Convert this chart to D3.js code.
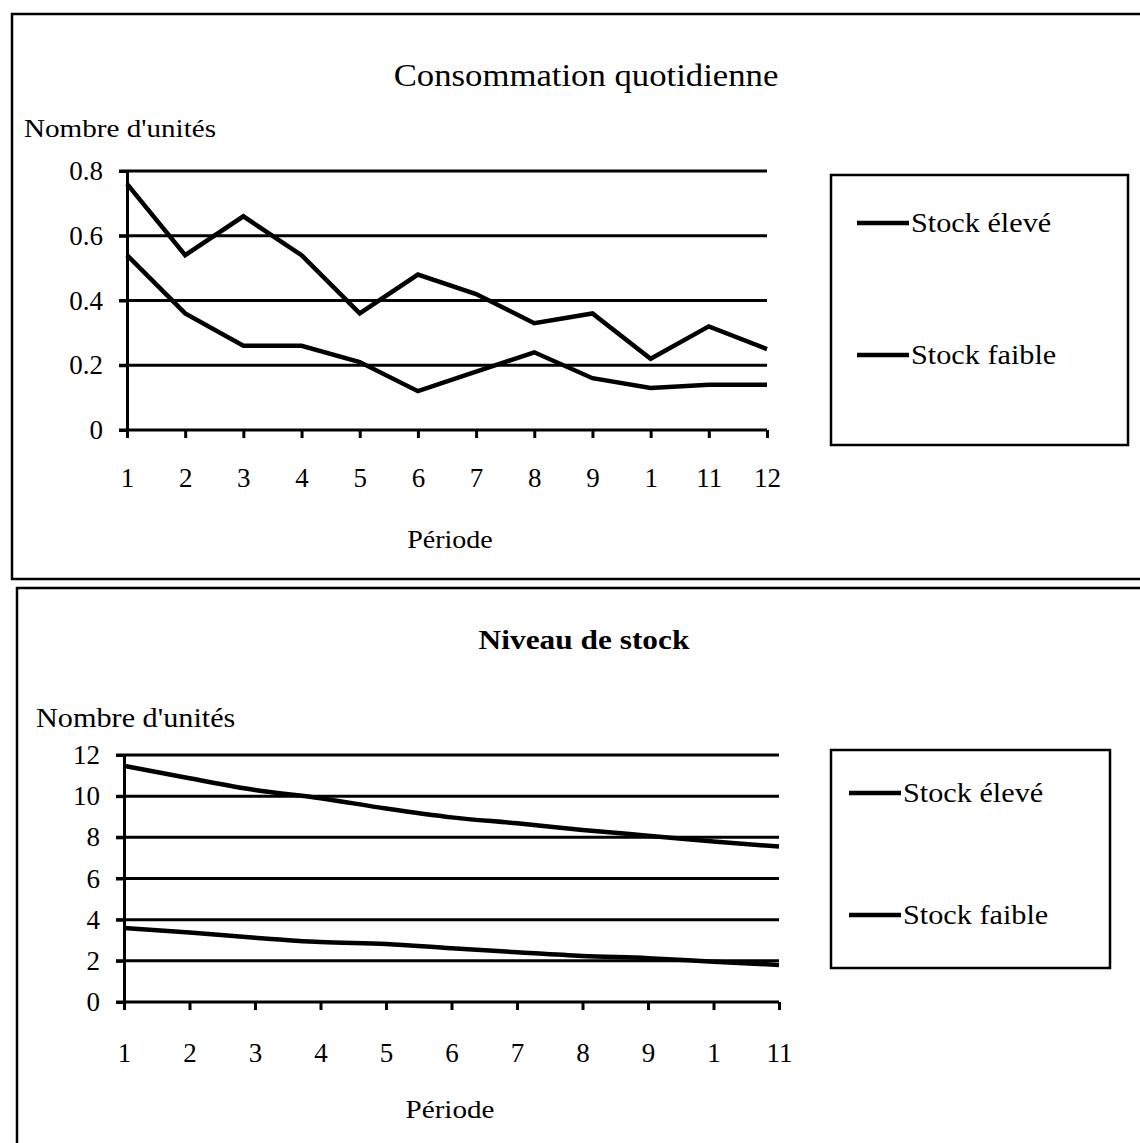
<!DOCTYPE html>
<html>
<head>
<meta charset="utf-8">
<script src="https://cdn.jsdelivr.net/npm/d3@7"></script>
<style>
  html, body { margin: 0; padding: 0; background: #fff; }
  svg { display: block; }
  text { font-family: "Liberation Serif", "Times New Roman", serif; fill: #000; }
</style>
</head>
<body>
<script>
// ---------- data ----------
const periodsTop = [1,2,3,4,5,6,7,8,9,10,11,12];
const periodLabelsTop = ["1","2","3","4","5","6","7","8","9","1","11","12"];
const consoHigh = [0.76,0.54,0.66,0.54,0.36,0.48,0.42,0.33,0.36,0.22,0.32,0.25];
const consoLow  = [0.54,0.36,0.26,0.26,0.21,0.12,0.18,0.24,0.16,0.13,0.14,0.14];
const yTicksTop = [0,0.2,0.4,0.6,0.8];
const yLabelsTop = ["0","0.2","0.4","0.6","0.8"];

const periodsBottom = [1,2,3,4,5,6,7,8,9,10,11];
const periodLabelsBottom = ["1","2","3","4","5","6","7","8","9","1","11"];
const stockHigh = [11.47,10.87,10.3,9.9,9.4,8.97,8.68,8.36,8.08,7.8,7.55];
const stockLow  = [3.6,3.38,3.12,2.91,2.82,2.61,2.42,2.24,2.13,1.96,1.8];
const yTicksBottom = [0,2,4,6,8,10,12];
const yLabelsBottom = ["0","2","4","6","8","10","12"];

const seriesNames = ["Stock élevé","Stock faible"];

// ---------- drawing ----------
const W = 1140, H = 1143;
const SX = 1.12; // horizontal stretch of the scanned lettering
const svg = d3.select("body").append("svg").attr("width", W).attr("height", H);

function label(g, x, y, txt, size, anchor, bold) {
  return g.append("text")
    .attr("transform", `translate(${x},${y}) scale(${SX},1)`)
    .attr("text-anchor", anchor || "start")
    .attr("font-size", size)
    .attr("font-weight", bold ? "bold" : "normal")
    .text(txt);
}

// frames
svg.append("rect").attr("x",12).attr("y",14).attr("width",1140).attr("height",565)
  .attr("fill","none").attr("stroke","#000").attr("stroke-width",2.5);
svg.append("rect").attr("x",17).attr("y",588).attr("width",1140).attr("height",600)
  .attr("fill","none").attr("stroke","#000").attr("stroke-width",2.5);

function drawChart(cfg) {
  const g = svg.append("g");
  const x = d3.scalePoint().domain(cfg.periods).range([cfg.x0, cfg.x1]);
  const y = d3.scaleLinear().domain(cfg.yDomain).range([cfg.y0, cfg.y1]);

  label(g, cfg.titleX, cfg.titleY, cfg.title, cfg.titleSize, "middle", cfg.titleBold);
  label(g, cfg.yTitleX, cfg.yTitleY, "Nombre d'unités", cfg.yTitleSize, "start");
  label(g, cfg.xTitleX, cfg.xTitleY, "Période", cfg.xTitleSize, "middle");

  // gridlines
  g.append("g").selectAll("line").data(cfg.yTicks.filter(d => d !== 0)).join("line")
    .attr("x1", cfg.x0 - 8).attr("x2", cfg.x1)
    .attr("y1", d => y(d)).attr("y2", d => y(d))
    .attr("stroke","#000").attr("stroke-width",3);

  // y axis
  const yAxis = d3.axisLeft(y).tickValues(cfg.yTicks)
    .tickFormat((d,i) => cfg.yLabels[i]).tickSizeInner(8).tickSizeOuter(0).tickPadding(16);
  const ya = g.append("g").attr("transform", `translate(${cfg.x0},0)`).call(yAxis);
  ya.select(".domain").attr("stroke-width",3);
  ya.selectAll(".tick line").attr("stroke-width",3);
  ya.selectAll("text").attr("font-size",27).attr("font-family","Liberation Serif");

  // x axis
  const xAxis = d3.axisBottom(x).tickFormat((d,i) => cfg.xLabels[i])
    .tickSizeInner(8).tickSizeOuter(0).tickPadding(cfg.xPad);
  const xa = g.append("g").attr("transform", `translate(0,${cfg.y0})`).call(xAxis);
  xa.select(".domain").attr("stroke-width",3).attr("d", `M${cfg.x0 - 8},0H${cfg.x1}`);
  xa.selectAll(".tick line").attr("stroke-width",3);
  xa.selectAll("text").attr("font-size",27).attr("font-family","Liberation Serif");

  // series
  const line = d3.line().x((d,i) => x(cfg.periods[i])).y(d => y(d)).curve(cfg.curve);
  cfg.series.forEach(s => {
    g.append("path").datum(s).attr("d", line)
      .attr("fill","none").attr("stroke","#000").attr("stroke-width",4.5)
      .attr("stroke-linejoin","miter");
  });

  // legend
  const L = cfg.legend;
  g.append("rect").attr("x",L.x).attr("y",L.y).attr("width",L.w).attr("height",L.h)
    .attr("fill","none").attr("stroke","#000").attr("stroke-width",2.5);
  seriesNames.forEach((n,i) => {
    const ly = L.rows[i];
    g.append("line").attr("x1",L.lx0).attr("x2",L.lx1).attr("y1",ly).attr("y2",ly)
      .attr("stroke","#000").attr("stroke-width",4.5);
    label(g, L.lx1 + 2, ly + 9, n, 27, "start");
  });
}

drawChart({
  periods: periodsTop, xLabels: periodLabelsTop,
  yDomain: [0,0.8], yTicks: yTicksTop, yLabels: yLabelsTop,
  x0: 127, x1: 767, y0: 430, y1: 171, xPad: 30,
  series: [consoHigh, consoLow], curve: d3.curveLinear,
  title: "Consommation quotidienne", titleX: 586, titleY: 86, titleSize: 31, titleBold: false,
  yTitleX: 24, yTitleY: 137, yTitleSize: 26,
  xTitleX: 450, xTitleY: 548, xTitleSize: 25,
  legend: {x: 831, y: 175, w: 297, h: 270, lx0: 857, lx1: 909, rows: [223, 355]}
});

drawChart({
  periods: periodsBottom, xLabels: periodLabelsBottom,
  yDomain: [0,12], yTicks: yTicksBottom, yLabels: yLabelsBottom,
  x0: 124, x1: 779, y0: 1002, y1: 755, xPad: 33,
  series: [stockHigh, stockLow], curve: d3.curveMonotoneX,
  title: "Niveau de stock", titleX: 584, titleY: 649, titleSize: 28, titleBold: true,
  yTitleX: 36, yTitleY: 727, yTitleSize: 27,
  xTitleX: 450, xTitleY: 1118, xTitleSize: 26,
  legend: {x: 831, y: 750, w: 279, h: 218, lx0: 849, lx1: 901, rows: [793, 915]}
});
</script>
</body>
</html>
